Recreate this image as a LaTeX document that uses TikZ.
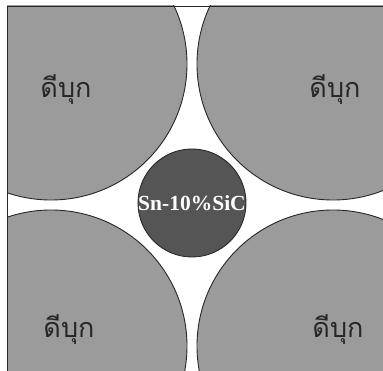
\documentclass[tikz,border=0pt]{standalone}
\usepackage{fontspec}
\setmainfont{Liberation Serif}
\newfontfamily\thaifont[Script=Thai]{Loma}
\definecolor{graintone}{RGB}{155,155,155}
\definecolor{coredark}{RGB}{85,85,85}
\definecolor{inkline}{RGB}{40,40,40}
\begin{document}
\begin{tikzpicture}[x=1pt,y=-1pt,
  grain/.style={circle, minimum size=272pt, inner sep=0pt, outer sep=0pt, fill=graintone, draw=inkline, line width=0.9pt},
  thai/.style={font=\thaifont\fontsize{27}{29}\selectfont, text=black!85, inner sep=0pt},
  corelabel/.style={font=\bfseries\fontsize{21.5}{22}\selectfont, text=white, inner sep=0pt}]
\useasboundingbox (0,0) rectangle (383,371);
\fill[white] (0,0) rectangle (383,371);
\begin{scope}
  \clip (7,6) rectangle (383,371);
  \node[grain] (tl) at (51,64) {};
  \node[grain] (tr) at (333,64) {};
  \node[grain] (bl) at (51,346) {};
  \node[grain] (br) at (333,346) {};
\end{scope}
\draw[inkline, line width=0.8pt] (7,371) -- (7,6) -- (383,6);
\node[circle, minimum size=108pt, inner sep=0pt, fill=coredark, draw=inkline, line width=0.9pt] (core) at (192,203) {};
\node[corelabel] (corelbl) at (core.center) {Sn-10\%SiC};
\node[thai] (ttl) at (66,90) {ดีบุก};
\node[thai] (ttr) at (335,90) {ดีบุก};
\node[thai] (tbl) at (69,330) {ดีบุก};
\node[thai] (tbr) at (338,330) {ดีบุก};
\end{tikzpicture}
\end{document}
